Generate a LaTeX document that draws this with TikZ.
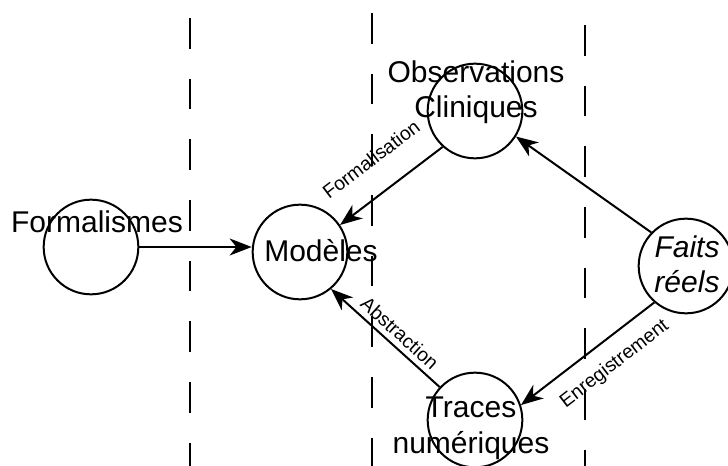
\documentclass[tikz,border=0pt]{standalone}
\usepackage{fontspec}
\setmainfont{Liberation Sans}
\usetikzlibrary{arrows.meta}
\usetikzlibrary{positioning}

\begin{document}
\begin{tikzpicture}[x=0.75pt, y=-0.75pt,
      every node/.style={font=\fontsize{22.5}{26.5}\selectfont},
      place/.style={draw, circle, line width=1.5pt, minimum size=71pt, inner sep=0pt},
      link/.style={line width=1.5pt, -{Stealth[length=16.5pt, width=12.75pt, inset=5pt]}},
      divider/.style={line width=1.5pt, dash pattern=on 23pt off 22.5pt},
      lbl/.style={font=\fontsize{14.5}{17}\selectfont, sloped}]
    \useasboundingbox (0,0) rectangle (728,466);

    % dashed separations
    \draw[divider] (190,18) -- (190,466);
    \draw[divider] (372,13) -- (372,466);
    \draw[divider] (585,25) -- (585,466);

    % circles
    \node[place] (form) at (91,247) {};
    \node[place] (mod) at (300,252) {};
    \node[place] (obs) at (475,111) {};
    \node[place] (traces) at (475,420) {};
    \node[place] (faits) at (686,266) {};

    % texts (base = last line)
    \node[anchor=base] (formtxt) at (97,233) {Formalismes};
    \node[anchor=base] (modtxt) at (321,262) {Modèles};
    \node[anchor=base, align=center] (obstxt) at (476,118) {Observations\\Cliniques};
    \node[anchor=base, align=center] (tracestxt) at (471,453) {Traces\\numériques};
    \node[anchor=base, align=center, font=\fontsize{22.5}{26.5}\selectfont\itshape] (faitstxt) at (687,293) {Faits\\réels};

    % arrows
    \draw[link] (form.east) -- (form.east -| mod.west);
    \draw[link] (obs.228) -- node[lbl, anchor=south, inner sep=19pt] (lformal) {Formalisation} (mod.34);
    \draw[link] (traces.137) -- node[lbl, pos=0.45, anchor=south, inner sep=4pt] (labstr) {Abstraction} (mod.310);
    \draw[link] (faits.229) -- node[lbl, pos=0.41, anchor=north, inner sep=11pt] (lenreg) {Enregistrement} (traces.18);
    \draw[link] (faits.136) -- (obs.328);
\end{tikzpicture}
\end{document}
